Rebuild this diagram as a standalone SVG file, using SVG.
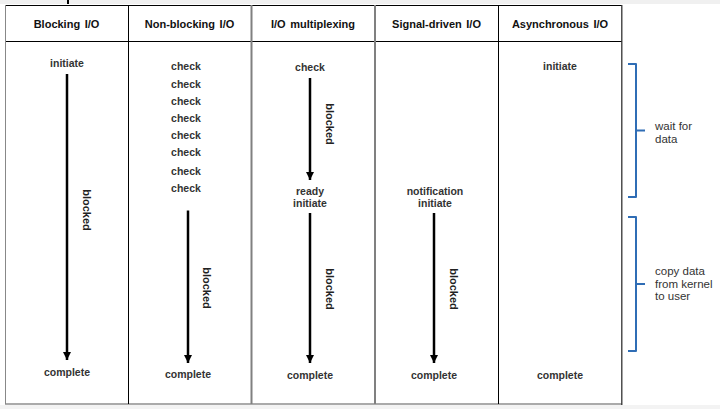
<svg xmlns="http://www.w3.org/2000/svg" width="720" height="409" viewBox="0 0 720 409">
<defs>
<marker id="ah" viewBox="0 0 10 10" refX="10" refY="5" markerWidth="3.2" markerHeight="3.2" orient="auto" markerUnits="strokeWidth">
<path d="M0,0 L10,5 L0,10 Z" fill="#000"/>
</marker>
<style>
.hd{font-family:"Liberation Sans",Arial,sans-serif;font-size:11px;font-weight:bold;fill:#111;text-anchor:middle;word-spacing:1.5px}
.tx{font-family:"Liberation Sans",Arial,sans-serif;font-size:10.5px;font-weight:bold;fill:#333;text-anchor:middle}
.bl{font-family:"Liberation Sans",Arial,sans-serif;font-size:11px;font-weight:bold;fill:#222;text-anchor:middle;dominant-baseline:central}
.lb{font-family:"Liberation Sans",Arial,sans-serif;font-size:11.5px;fill:#333}
.ar{stroke:#000;stroke-width:2.5;fill:none;marker-end:url(#ah)}
.ln{stroke:#000;stroke-width:1;fill:none}
.lg{stroke:#808080;stroke-width:2;fill:none}
.br{stroke:#2f6db5;stroke-width:2;fill:none;stroke-linejoin:round}
</style>
</defs>
<rect x="0" y="0" width="720" height="409" fill="#fff"/>
<rect x="0" y="0" width="720" height="4" fill="#f0f0f0"/>
<rect x="67" y="0" width="2" height="4" fill="#000"/>
<rect x="0" y="405" width="720" height="4" fill="#f3f3f3"/>
<g id="table">
<line class="ln" x1="5" y1="5.5" x2="622" y2="5.5"/>
<line class="ln" x1="5" y1="41.5" x2="622" y2="41.5"/>
<line x1="5" y1="404" x2="622" y2="404" stroke="#aaa" stroke-width="2"/>
<line x1="5.5" y1="5" x2="5.5" y2="404" stroke="#888" stroke-width="1"/>
<line class="ln" x1="128.5" y1="5" x2="128.5" y2="404"/>
<line class="lg" x1="251.5" y1="5" x2="251.5" y2="404"/>
<line class="lg" x1="375" y1="5" x2="375" y2="404"/>
<line class="ln" x1="498.5" y1="5" x2="498.5" y2="404"/>
<line x1="621.8" y1="5" x2="621.8" y2="405" stroke="#333" stroke-width="1.3"/>
</g>
<g id="blocking">
<text class="hd" x="66.5" y="28">Blocking I/O</text>
<text class="tx" x="67" y="67">initiate</text>
<text class="tx" x="67" y="375.5">complete</text>
<text class="bl" x="87" y="210" transform="rotate(90 87 210)">blocked</text>
</g>
<g id="nonblocking">
<text class="hd" x="189.5" y="28">Non-blocking I/O</text>
<text class="tx" x="186" y="70">check</text>
<text class="tx" x="186" y="88">check</text>
<text class="tx" x="186" y="105">check</text>
<text class="tx" x="186" y="122">check</text>
<text class="tx" x="186" y="139">check</text>
<text class="tx" x="186" y="156">check</text>
<text class="tx" x="186" y="175">check</text>
<text class="tx" x="186" y="192">check</text>
<text class="tx" x="188" y="377.5">complete</text>
<text class="bl" x="207" y="288" transform="rotate(90 207 288)">blocked</text>
</g>
<g id="multiplexing">
<text class="hd" x="313" y="28">I/O multiplexing</text>
<text class="tx" x="310" y="71">check</text>
<text class="tx" x="310" y="194.5">ready</text>
<text class="tx" x="310" y="207">initiate</text>
<text class="tx" x="310" y="378.5">complete</text>
<text class="bl" x="329.5" y="124" transform="rotate(90 329.5 124)">blocked</text>
<text class="bl" x="329.5" y="289" transform="rotate(90 329.5 289)">blocked</text>
</g>
<g id="signaldriven">
<text class="hd" x="436.5" y="28">Signal-driven I/O</text>
<text class="tx" x="435" y="194.5">notification</text>
<text class="tx" x="435" y="207">initiate</text>
<text class="tx" x="434" y="378.5">complete</text>
<text class="bl" x="454" y="289" transform="rotate(90 454 289)">blocked</text>
</g>
<g id="asynchronous">
<text class="hd" x="560" y="28">Asynchronous I/O</text>
<text class="tx" x="560" y="70">initiate</text>
<text class="tx" x="560" y="378.5">complete</text>
</g>
<g id="connectors">
<line class="ar" x1="67" y1="74" x2="67" y2="360"/>
<line class="ar" x1="188" y1="210.5" x2="188" y2="363"/>
<line class="ar" x1="310" y1="78" x2="310" y2="180"/>
<line class="ar" x1="310" y1="213" x2="310" y2="363"/>
<line class="ar" x1="434" y1="213" x2="434" y2="363"/>
</g>
<g id="wait-for-data">
<path class="br" d="M628,64 H636 V197 H628 M636,130.5 H645"/>
<text class="lb" x="655" y="130">wait for</text>
<text class="lb" x="655" y="142.5">data</text>
</g>
<g id="copy-data">
<path class="br" d="M628,217 H636 V351 H628 M636,284 H645"/>
<text class="lb" x="655" y="275">copy data</text>
<text class="lb" x="655" y="287.5">from kernel</text>
<text class="lb" x="655" y="300">to user</text>
</g>
</svg>
